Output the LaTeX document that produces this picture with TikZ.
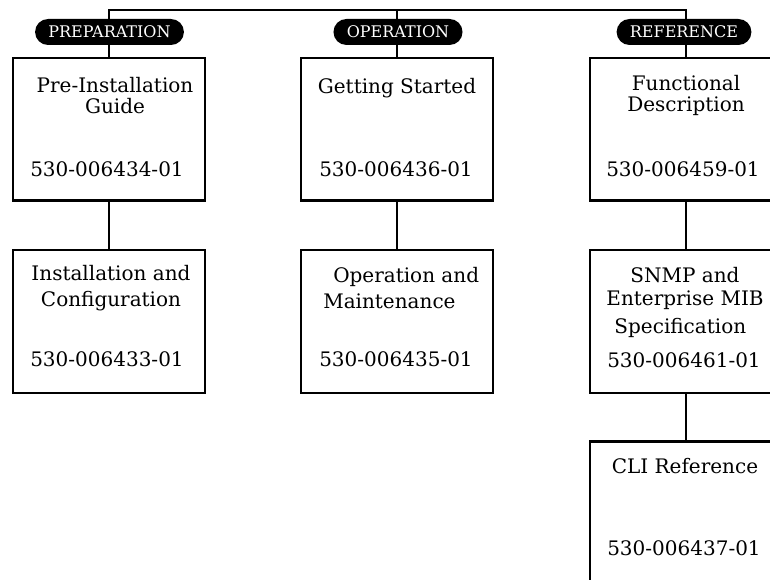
\documentclass[tikz,border=0pt]{standalone}
\usepackage{fontspec}
\setmainfont{DejaVu Serif}
\begin{document}
\begin{tikzpicture}[x=0.75pt,y=-0.75pt]
		\tikzset{doc/.style = {draw, line width=2pt, minimum width=144pt, minimum height=107pt, inner sep=0pt}}
		\tikzset{tag/.style = {fill=black, text=white, rounded corners=9.75pt, minimum height=19.5pt, inner xsep=10pt, inner ysep=0pt, font=\fontsize{12}{12}\selectfont}}
		\tikzset{title/.style = {align=center, anchor=north, inner sep=0pt, font=\fontsize{15}{16}\selectfont}}
		\tikzset{partno/.style = {anchor=base, inner sep=0pt, font=\fontsize{15}{16}\selectfont}}
		\tikzset{link/.style = {line width=2pt}}
		
		\useasboundingbox (0,0) rectangle (770,580);
		
		\node[doc]  (prep1) at ( 109, 129.5) {};
		\node[doc]  (prep2) at ( 109, 321.5) {};
		\node[doc]    (op1) at ( 397, 129.5) {};
		\node[doc]    (op2) at ( 397, 321.5) {};
		\node[doc]   (ref1) at ( 686, 129.5) {};
		\node[doc]   (ref2) at ( 686, 321.5) {};
		\node[doc]   (ref3) at ( 686, 512.5) {};
		
		\coordinate (bus) at (0, 10);
		
		\draw[link] (prep1.north) -- (prep1.north |- bus) -| (ref1.north);
		\draw[link] (op1.north) -- (op1.north |- bus);
		\draw[link] (prep1) to (prep2);
		\draw[link] (op1) to (op2);
		\draw[link] (ref1) to (ref2);
		\draw[link] (ref2) to (ref3);
		
		\node[tag] (tprep) at ( 109.5, 32) {PREPARATION};
		\node[tag]   (top) at ( 398, 32) {OPERATION};
		\node[tag]  (tref) at ( 684, 32) {REFERENCE};
		
		\node[title] (prep1t) at ( 115,  77) {Pre-Installation\\Guide};
		\node[title] (prep2t) at ( 111, 265) {Installation and\\[3.5pt]Configuration};
		\node[title]   (op1t) at ( 397,  78) {Getting Started};
		\node[title, align=left, anchor=north west] (op2t) at ( 323, 267) {\hspace*{7.5pt}Operation and\\[3.5pt]Maintenance};
		\node[title]  (ref1t) at ( 686,  75) {Functional\\Description};
		\node[title]  (ref2t) at ( 685, 267) {SNMP and\\[1.25pt]Enterprise MIB\\[5pt]\hspace*{-7pt}Specification};
		\node[title]  (ref3t) at ( 685, 458) {CLI Reference};
		
		\node[partno] (prep1n) at ( 107, 177) {530-006434-01};
		\node[partno] (prep2n) at ( 107, 367) {530-006433-01};
		\node[partno]   (op1n) at ( 396, 177) {530-006436-01};
		\node[partno]   (op2n) at ( 396, 367) {530-006435-01};
		\node[partno]  (ref1n) at ( 683, 177) {530-006459-01};
		\node[partno]  (ref2n) at ( 684, 368) {530-006461-01};
		\node[partno]  (ref3n) at ( 684, 555) {530-006437-01};
\end{tikzpicture}
\end{document}
